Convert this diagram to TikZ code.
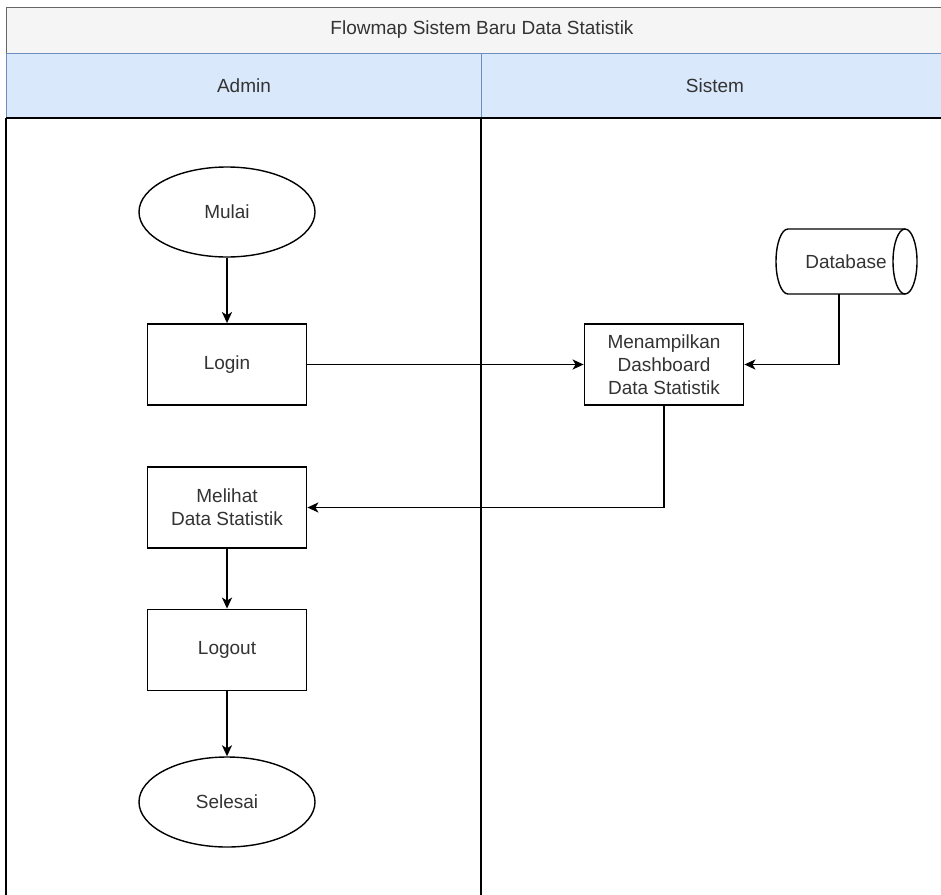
\documentclass[tikz,border=0pt]{standalone}
\usepackage{fontspec}
\setmainfont{Liberation Sans}
\usetikzlibrary{arrows.meta,shapes.geometric}
\definecolor{titlefill}{HTML}{F5F5F5}
\definecolor{titleline}{HTML}{666666}
\definecolor{lanefill}{HTML}{DAE8FC}
\definecolor{laneline}{HTML}{6C8EBF}
\definecolor{txt}{HTML}{333333}
\begin{document}
\begin{tikzpicture}[x=1pt,y=-1pt,
  every node/.style={font=\fontsize{19}{23}\selectfont, text=txt},
  procbox/.style={draw=black, line width=1.8pt, minimum width=159pt, minimum height=81pt, align=center, inner sep=0pt, fill=white},
  term/.style={draw=black, line width=1.4pt, ellipse, minimum width=176pt, minimum height=90pt, inner sep=0pt, fill=white},
  cyl/.style={draw=black, line width=1.4pt, fill=white},
  flow/.style={draw=black, line width=1.8pt, -{Stealth[length=11pt,width=10pt,inset=3pt]}},
  lanebody/.style={draw=black, line width=1.5pt}]
\clip (0,0) rectangle (941,894);
\fill[white] (0,0) rectangle (941,894);
% pool title
\draw[fill=titlefill, draw=titleline, line width=1pt] (6,7) rectangle (990,53);
\node (title) at (482,30) {Flowmap Sistem Baru Data Statistik};
% lane headers
\draw[fill=lanefill, draw=laneline, line width=1pt] (6,53) rectangle (481,118);
\draw[fill=lanefill, draw=laneline, line width=1pt] (481,53) rectangle (990,118);
\node (admin) at (244,86) {Admin};
\node (sistem) at (715,86) {Sistem};
% lane bodies
\draw[lanebody] (6,118) -- (990,118);
\draw[lanebody] (6,118) -- (6,900);
\draw[lanebody] (481,118) -- (481,900);
% nodes
\node[term] (mulai) at (227,212) {Mulai};
\node[procbox] (login) at (227,364.5) {Login};
\node[procbox] (menampil) at (664,364.5) {Menampilkan\\Dashboard\\Data Statistik};
\node[procbox] (melihat) at (227,507.5) {Melihat\\Data Statistik};
\node[procbox] (logout) at (227,650) {Logout};
\node[term] (selesai) at (227,802) {Selesai};
% database cylinder
\draw[cyl] (788,229) -- (905,229) arc[start angle=90, end angle=-90, x radius=12pt, y radius=32.5pt] -- (788,294) arc[start angle=270, end angle=90, x radius=12pt, y radius=32.5pt] -- cycle;
\draw[cyl, fill=none] (905,294) arc[start angle=270, end angle=90, x radius=12pt, y radius=32.5pt];
\node (db) at (846,261.5) {Database};
\coordinate (dbout) at (839,294);
% connectors
\draw[flow] (mulai) -- (login);
\draw[flow] (login) -- (menampil);
\draw[flow] (dbout) |- (menampil.east);
\draw[flow] (menampil.south) |- (melihat.east);
\draw[flow] (melihat) -- (logout);
\draw[flow] (logout) -- (selesai);
\end{tikzpicture}
\end{document}
